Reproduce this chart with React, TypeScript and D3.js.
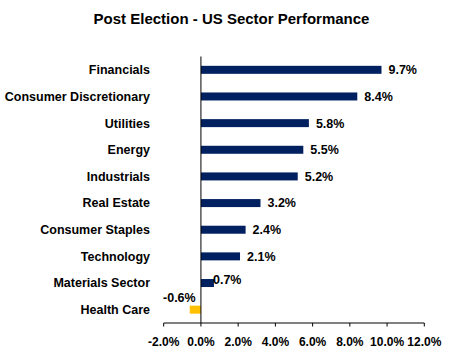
import React from "react";
import * as d3 from "d3";

const categories = [
  "Financials",
  "Consumer Discretionary",
  "Utilities",
  "Energy",
  "Industrials",
  "Real Estate",
  "Consumer Staples",
  "Technology",
  "Materials Sector",
  "Health Care",
];
const values = [9.7, 8.4, 5.8, 5.5, 5.2, 3.2, 2.4, 2.1, 0.7, -0.6];
const tickValues = [-2, 0, 2, 4, 6, 8, 10, 12];
const title = "Post Election - US Sector Performance";

const W = 451;
const H = 356;
const FONT = "'Liberation Sans', Arial, sans-serif";
const NAVY = "#002060";
const GOLD = "#FFC000";
const pct = (v: number) => v.toFixed(1) + "%";

export default function App() {
  const x = d3.scaleLinear().domain([-2, 12]).range([163.7, 424.3]);
  const y = d3
    .scaleBand<string>()
    .domain(categories)
    .range([56.5, 323])
    .paddingInner(0.7)
    .paddingOuter(0.35);
  const x0 = x(0);
  const axisY = 323;

  return (
    <svg
      width={W}
      height={H}
      style={{ position: "absolute", left: 0, top: 0, background: "#fff" }}
      fontFamily={FONT}
    >
      <rect width={W} height={H} fill="#fff" />
      <text
        x={231.5}
        y={24}
        textAnchor="middle"
        fontSize={15}
        fontWeight={700}
        fill="#000"
      >
        {title}
      </text>

      {categories.map((c, i) => {
        const v = values[i];
        const by = y(c)!;
        const bh = y.bandwidth();
        const cy = by + bh / 2;
        const xs = x(Math.min(0, v));
        const xe = x(Math.max(0, v));
        let lx: number;
        let ly: number;
        let anchor: "start" | "middle" = "start";
        if (v < 0) {
          lx = (xs + xe) / 2 - 16;
          ly = cy - 12.5;
          anchor = "middle";
        } else if (v < 1) {
          lx = xe - 1;
          ly = cy - 3.5;
        } else {
          lx = xe + 7;
          ly = cy;
        }
        return (
          <g key={c}>
            <text
              x={150}
              y={cy}
              dy="0.35em"
              textAnchor="end"
              fontSize={12.5}
              fontWeight={700}
              fill="#000"
            >
              {c}
            </text>
            <rect
              x={xs}
              y={by}
              width={xe - xs}
              height={bh}
              fill={v < 0 ? GOLD : NAVY}
            />
            <text
              x={lx}
              y={ly}
              dy="0.35em"
              textAnchor={anchor}
              fontSize={12.5}
              fontWeight={700}
              fill="#000"
            >
              {pct(v)}
            </text>
          </g>
        );
      })}

      <line x1={x0} x2={x0} y1={56.5} y2={axisY} stroke="#000" strokeWidth={1} />
      <line
        x1={x(-2)}
        x2={x(12)}
        y1={axisY}
        y2={axisY}
        stroke="#000"
        strokeWidth={1}
      />
      {tickValues.map((t) => (
        <g key={t}>
          <line
            x1={x(t)}
            x2={x(t)}
            y1={axisY}
            y2={axisY + 3.5}
            stroke="#000"
            strokeWidth={1}
          />
          <text
            x={x(t)}
            y={341.7}
            dy="0.35em"
            textAnchor="middle"
            fontSize={12}
            fontWeight={700}
            fill="#000"
          >
            {pct(t)}
          </text>
        </g>
      ))}
    </svg>
  );
}
